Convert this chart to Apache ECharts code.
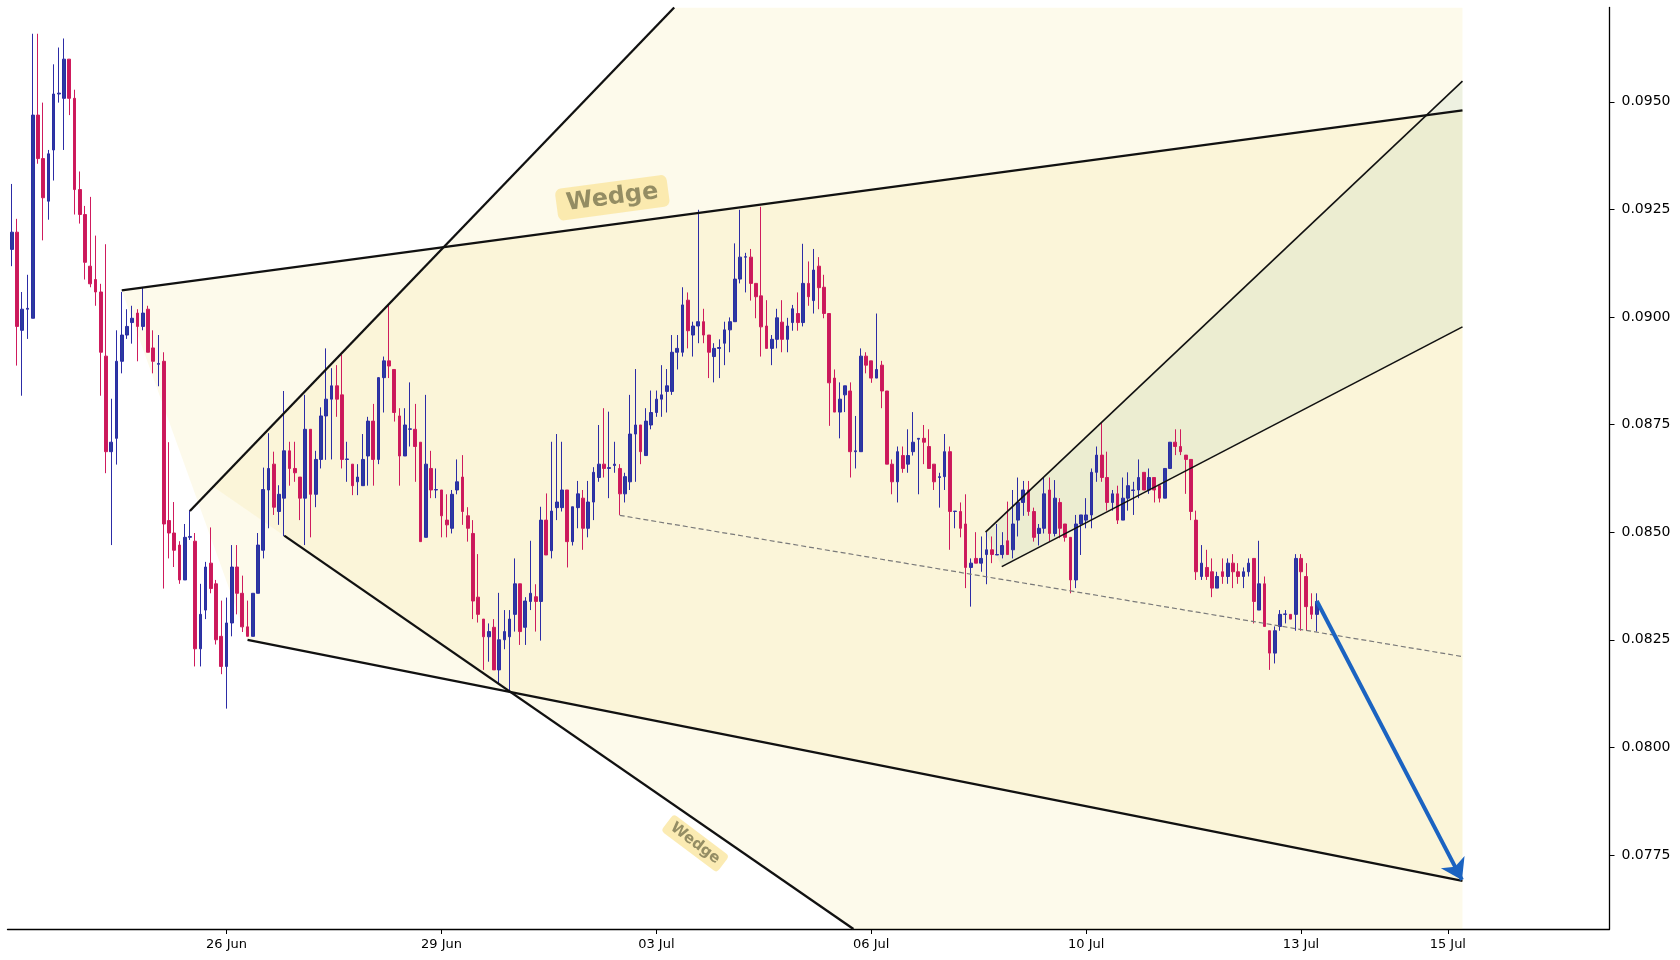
<!DOCTYPE html>
<html>
<head>
<meta charset="utf-8">
<title>Wedge</title>
<script src="https://cdn.jsdelivr.net/npm/echarts@6/dist/echarts.min.js"></script>
<style>
  html, body { margin: 0; padding: 0; background: #fff; }
  #chart { width: 1680px; height: 960px; }
</style>
</head>
<body>
<div id="chart"></div>
<script>
// 2h candles, x is the candle index
const opens = [
  0.09157, 0.09197, 0.08969, 0.09018, 0.08997, 0.09469, 0.09368, 0.09269, 0.09388, 0.09518,
  0.09508, 0.09599, 0.09508, 0.09296, 0.09238, 0.09118, 0.09087, 0.09058, 0.08909, 0.08687,
  0.08718, 0.08897, 0.08958, 0.08987, 0.09009, 0.08978, 0.09018, 0.08928, 0.08890, 0.08897,
  0.08527, 0.08498, 0.08470, 0.08389, 0.08488, 0.08479, 0.08229, 0.08319, 0.08428, 0.08380,
  0.08258, 0.08188, 0.08289, 0.08419, 0.08358, 0.08280, 0.08258, 0.08358, 0.08458, 0.08598,
  0.08658, 0.08548, 0.08579, 0.08689, 0.08648, 0.08628, 0.08579, 0.08739, 0.08588, 0.08669,
  0.08770, 0.08809, 0.08840, 0.08819, 0.08669, 0.08658, 0.08617, 0.08608, 0.08677, 0.08758,
  0.08669, 0.08859, 0.08898, 0.08878, 0.08770, 0.08677, 0.08739, 0.08739, 0.08709, 0.08488,
  0.08648, 0.08598, 0.08598, 0.08528, 0.08509, 0.08598, 0.08628, 0.08538, 0.08497, 0.08349,
  0.08298, 0.08257, 0.08279, 0.08180, 0.08250, 0.08257, 0.08309, 0.08380, 0.08279, 0.08339,
  0.08350, 0.08339, 0.08528, 0.08457, 0.08557, 0.08557, 0.08598, 0.08478, 0.08557, 0.08579,
  0.08509, 0.08570, 0.08627, 0.08658, 0.08648, 0.08655, 0.08648, 0.08589, 0.08617, 0.08728,
  0.08749, 0.08678, 0.08749, 0.08778, 0.08809, 0.08827, 0.08827, 0.08918, 0.08918, 0.09039,
  0.08958, 0.08979, 0.08989, 0.08958, 0.08908, 0.08927, 0.08939, 0.08970, 0.08989, 0.09088,
  0.09139, 0.09139, 0.09078, 0.09049, 0.08979, 0.08927, 0.08948, 0.08988, 0.08948, 0.08987,
  0.09008, 0.08987, 0.09078, 0.09038, 0.09118, 0.09069, 0.09008, 0.08858, 0.08779, 0.08819,
  0.08828, 0.08687, 0.08687, 0.08909, 0.08898, 0.08858, 0.08888, 0.08828, 0.08658, 0.08617,
  0.08678, 0.08658, 0.08687, 0.08716, 0.08718, 0.08699, 0.08658, 0.08627, 0.08629, 0.08687,
  0.08548, 0.08548, 0.08519, 0.08418, 0.08439, 0.08428, 0.08448, 0.08459, 0.08447, 0.08448,
  0.08480, 0.08459, 0.08528, 0.08569, 0.08598, 0.08548, 0.08497, 0.08509, 0.08598, 0.08497,
  0.08569, 0.08519, 0.08488, 0.08389, 0.08519, 0.08528, 0.08540, 0.08639, 0.08679, 0.08627,
  0.08569, 0.08589, 0.08528, 0.08579, 0.08597, 0.08598, 0.08639, 0.08598, 0.08627, 0.08608,
  0.08579, 0.08648, 0.08709, 0.08699, 0.08679, 0.08669, 0.08528, 0.08397, 0.08418, 0.08408,
  0.08370, 0.08408, 0.08397, 0.08428, 0.08408, 0.08397, 0.08408, 0.08439, 0.08319, 0.08380,
  0.08271, 0.08219, 0.08281, 0.08309, 0.08309, 0.08309, 0.08439, 0.08397, 0.08327, 0.08309
];
const closes = [
  0.09197, 0.08978, 0.09018, 0.09020, 0.09469, 0.09368, 0.09277, 0.09379, 0.09518, 0.09520,
  0.09599, 0.09508, 0.09296, 0.09238, 0.09127, 0.09077, 0.09058, 0.08918, 0.08687, 0.08709,
  0.08897, 0.08958, 0.08978, 0.08997, 0.08978, 0.09009, 0.08918, 0.08897, 0.08892, 0.08519,
  0.08498, 0.08458, 0.08389, 0.08488, 0.08490, 0.08229, 0.08309, 0.08419, 0.08369, 0.08250,
  0.08188, 0.08289, 0.08419, 0.08358, 0.08280, 0.08258, 0.08358, 0.08470, 0.08599, 0.08648,
  0.08558, 0.08588, 0.08689, 0.08648, 0.08638, 0.08579, 0.08739, 0.08588, 0.08669, 0.08770,
  0.08809, 0.08840, 0.08809, 0.08669, 0.08670, 0.08608, 0.08628, 0.08669, 0.08758, 0.08669,
  0.08859, 0.08898, 0.08886, 0.08778, 0.08677, 0.08749, 0.08740, 0.08699, 0.08478, 0.08658,
  0.08598, 0.08599, 0.08538, 0.08517, 0.08588, 0.08617, 0.08548, 0.08509, 0.08340, 0.08309,
  0.08257, 0.08269, 0.08180, 0.08250, 0.08269, 0.08298, 0.08380, 0.08269, 0.08340, 0.08358,
  0.08339, 0.08528, 0.08447, 0.08549, 0.08570, 0.08598, 0.08478, 0.08559, 0.08589, 0.08509,
  0.08570, 0.08639, 0.08658, 0.08648, 0.08650, 0.08658, 0.08589, 0.08629, 0.08728, 0.08749,
  0.08687, 0.08758, 0.08778, 0.08809, 0.08819, 0.08840, 0.08918, 0.08927, 0.09028, 0.08968,
  0.08979, 0.08989, 0.08958, 0.08918, 0.08927, 0.08929, 0.08970, 0.08989, 0.09088, 0.09139,
  0.09140, 0.09078, 0.09047, 0.08977, 0.08927, 0.08948, 0.08998, 0.08948, 0.08979, 0.09019,
  0.08987, 0.09078, 0.09047, 0.09109, 0.09068, 0.09008, 0.08847, 0.08779, 0.08809, 0.08840,
  0.08687, 0.08689, 0.08909, 0.08888, 0.08858, 0.08878, 0.08828, 0.08658, 0.08617, 0.08687,
  0.08648, 0.08678, 0.08709, 0.08718, 0.08709, 0.08648, 0.08617, 0.08629, 0.08687, 0.08548,
  0.08549, 0.08509, 0.08418, 0.08428, 0.08428, 0.08439, 0.08459, 0.08448, 0.08448, 0.08469,
  0.08448, 0.08519, 0.08569, 0.08598, 0.08548, 0.08488, 0.08509, 0.08589, 0.08497, 0.08579,
  0.08509, 0.08488, 0.08389, 0.08519, 0.08540, 0.08540, 0.08639, 0.08679, 0.08627, 0.08569,
  0.08589, 0.08528, 0.08579, 0.08608, 0.08598, 0.08627, 0.08598, 0.08627, 0.08598, 0.08579,
  0.08648, 0.08709, 0.08699, 0.08687, 0.08669, 0.08548, 0.08408, 0.08428, 0.08397, 0.08370,
  0.08397, 0.08397, 0.08428, 0.08408, 0.08397, 0.08408, 0.08428, 0.08339, 0.08380, 0.08281,
  0.08219, 0.08271, 0.08309, 0.08310, 0.08298, 0.08439, 0.08408, 0.08327, 0.08309, 0.08339
];
const lows = [
  0.09118, 0.08887, 0.08817, 0.08949, 0.08997, 0.09356, 0.09178, 0.09226, 0.09317, 0.09498,
  0.09388, 0.09469, 0.09238, 0.09217, 0.09087, 0.09069, 0.09026, 0.08817, 0.08637, 0.08470,
  0.08657, 0.08869, 0.08949, 0.08938, 0.08897, 0.08969, 0.08918, 0.08869, 0.08839, 0.08369,
  0.08439, 0.08419, 0.08380, 0.08389, 0.08482, 0.08188, 0.08188, 0.08298, 0.08358, 0.08239,
  0.08170, 0.08090, 0.08258, 0.08309, 0.08268, 0.08258, 0.08258, 0.08358, 0.08439, 0.08509,
  0.08540, 0.08517, 0.08491, 0.08608, 0.08617, 0.08528, 0.08470, 0.08488, 0.08558, 0.08648,
  0.08668, 0.08669, 0.08768, 0.08648, 0.08617, 0.08586, 0.08586, 0.08608, 0.08608, 0.08608,
  0.08658, 0.08778, 0.08858, 0.08757, 0.08608, 0.08677, 0.08699, 0.08617, 0.08478, 0.08488,
  0.08579, 0.08579, 0.08488, 0.08488, 0.08497, 0.08588, 0.08517, 0.08478, 0.08298, 0.08290,
  0.08180, 0.08199, 0.08180, 0.08149, 0.08228, 0.08130, 0.08269, 0.08238, 0.08238, 0.08319,
  0.08269, 0.08248, 0.08447, 0.08439, 0.08528, 0.08548, 0.08418, 0.08469, 0.08509, 0.08459,
  0.08488, 0.08528, 0.08617, 0.08627, 0.08579, 0.08638, 0.08540, 0.08569, 0.08598, 0.08617,
  0.08658, 0.08678, 0.08739, 0.08768, 0.08768, 0.08778, 0.08819, 0.08878, 0.08908, 0.08927,
  0.08908, 0.08939, 0.08939, 0.08858, 0.08848, 0.08858, 0.08888, 0.08918, 0.08989, 0.09078,
  0.09057, 0.09038, 0.08997, 0.08908, 0.08927, 0.08888, 0.08927, 0.08918, 0.08918, 0.08968,
  0.08968, 0.08978, 0.09026, 0.09008, 0.09018, 0.08997, 0.08747, 0.08779, 0.08718, 0.08779,
  0.08627, 0.08648, 0.08687, 0.08869, 0.08847, 0.08858, 0.08788, 0.08658, 0.08588, 0.08569,
  0.08638, 0.08638, 0.08678, 0.08588, 0.08658, 0.08648, 0.08598, 0.08557, 0.08598, 0.08459,
  0.08509, 0.08488, 0.08370, 0.08327, 0.08428, 0.08408, 0.08379, 0.08428, 0.08447, 0.08439,
  0.08448, 0.08439, 0.08490, 0.08538, 0.08538, 0.08478, 0.08469, 0.08497, 0.08478, 0.08490,
  0.08486, 0.08478, 0.08358, 0.08370, 0.08447, 0.08509, 0.08509, 0.08617, 0.08617, 0.08550,
  0.08550, 0.08519, 0.08528, 0.08550, 0.08540, 0.08579, 0.08598, 0.08589, 0.08569, 0.08569,
  0.08579, 0.08648, 0.08679, 0.08679, 0.08589, 0.08528, 0.08389, 0.08389, 0.08389, 0.08349,
  0.08370, 0.08380, 0.08380, 0.08370, 0.08380, 0.08370, 0.08397, 0.08288, 0.08319, 0.08281,
  0.08180, 0.08195, 0.08271, 0.08288, 0.08298, 0.08271, 0.08271, 0.08271, 0.08298, 0.08269
];
const highs = [
  0.09309, 0.09228, 0.09058, 0.09098, 0.09658, 0.09658, 0.09498, 0.09388, 0.09587, 0.09626,
  0.09647, 0.09599, 0.09528, 0.09338, 0.09258, 0.09279, 0.09189, 0.09077, 0.09169, 0.08810,
  0.08969, 0.09058, 0.09018, 0.09026, 0.09018, 0.09069, 0.09026, 0.08969, 0.08958, 0.08918,
  0.08709, 0.08570, 0.08479, 0.08519, 0.08551, 0.08498, 0.08380, 0.08431, 0.08511, 0.08389,
  0.08341, 0.08348, 0.08470, 0.08470, 0.08399, 0.08341, 0.08358, 0.08498, 0.08650, 0.08730,
  0.08687, 0.08609, 0.08828, 0.08710, 0.08710, 0.08628, 0.08819, 0.08739, 0.08689, 0.08790,
  0.08927, 0.08881, 0.08888, 0.08912, 0.08710, 0.08658, 0.08658, 0.08728, 0.08768, 0.08798,
  0.08860, 0.08908, 0.09028, 0.08878, 0.08788, 0.08788, 0.08848, 0.08798, 0.08709, 0.08819,
  0.08689, 0.08648, 0.08598, 0.08588, 0.08598, 0.08669, 0.08679, 0.08558, 0.08528, 0.08449,
  0.08298, 0.08288, 0.08298, 0.08359, 0.08319, 0.08319, 0.08439, 0.08380, 0.08349, 0.08480,
  0.08379, 0.08559, 0.08590, 0.08710, 0.08728, 0.08710, 0.08598, 0.08559, 0.08619, 0.08598,
  0.08619, 0.08651, 0.08749, 0.08788, 0.08780, 0.08710, 0.08658, 0.08638, 0.08819, 0.08879,
  0.08749, 0.08788, 0.08829, 0.08829, 0.08888, 0.08879, 0.08958, 0.08958, 0.09069, 0.09057,
  0.08989, 0.09249, 0.09019, 0.08958, 0.08939, 0.08948, 0.08989, 0.08999, 0.09171, 0.09249,
  0.09149, 0.09158, 0.09078, 0.09256, 0.09039, 0.08958, 0.09019, 0.09039, 0.08998, 0.09028,
  0.09057, 0.09170, 0.09129, 0.09158, 0.09139, 0.09098, 0.09008, 0.08878, 0.08848, 0.08840,
  0.08848, 0.08770, 0.08927, 0.08918, 0.08898, 0.09008, 0.08898, 0.08828, 0.08669, 0.08699,
  0.08699, 0.08739, 0.08779, 0.08718, 0.08749, 0.08739, 0.08658, 0.08638, 0.08728, 0.08699,
  0.08549, 0.08569, 0.08588, 0.08439, 0.08500, 0.08490, 0.08500, 0.08490, 0.08519, 0.08500,
  0.08571, 0.08598, 0.08627, 0.08619, 0.08619, 0.08557, 0.08519, 0.08627, 0.08627, 0.08621,
  0.08579, 0.08519, 0.08488, 0.08540, 0.08540, 0.08579, 0.08648, 0.08699, 0.08754, 0.08687,
  0.08598, 0.08608, 0.08627, 0.08639, 0.08617, 0.08669, 0.08639, 0.08648, 0.08627, 0.08608,
  0.08648, 0.08709, 0.08739, 0.08739, 0.08679, 0.08669, 0.08550, 0.08470, 0.08459, 0.08439,
  0.08408, 0.08439, 0.08439, 0.08449, 0.08428, 0.08418, 0.08439, 0.08439, 0.08480, 0.08397,
  0.08271, 0.08281, 0.08319, 0.08319, 0.08309, 0.08449, 0.08449, 0.08428, 0.08358, 0.08358
];

const tickIdx = [41, 82, 123, 164, 205, 246, 274];
const tickText = ['26 Jun', '29 Jun', '03 Jul', '06 Jul', '10 Jul', '13 Jul', '15 Jul'];
const priceTicks = [0.0775, 0.0800, 0.0825, 0.0850, 0.0875, 0.0900, 0.0925, 0.0950];

// drawings, points are [candle index, price]
const bigWedgeTop = [[21, 0.09062], [276.8, 0.09480]];
const bigWedgeBottom = [[45, 0.08250], [276.8, 0.07690]];
const bigWedgeArea = [[21, 0.09062], [276.8, 0.09480], [276.8, 0.07690], [45, 0.08250]];
const broadUpper = [[34, 0.08549], [126.4, 0.09719]];
const broadLower = [[52, 0.08492], [160.6, 0.07578]];
const broadArea = [[38.4, 0.08606], [126.4, 0.09719], [276.8, 0.09719], [276.8, 0.07578], [160.6, 0.07578]];
const risingUpper = [[185.8, 0.08500], [276.8, 0.09548]];
const risingLower = [[188.9, 0.08420], [276.8, 0.08977]];
const risingArea = [[185.8, 0.08500], [276.8, 0.09548], [276.8, 0.08977], [188.9, 0.08420]];
const dashLine = [[116, 0.08539], [276.8, 0.08211]];
const arrowLine = [[249, 0.08340], [276.7, 0.07692]];
const labelBig = [114.6, 0.09277];
const labelSmall = [130.4, 0.07777];

const candles = opens.map((o, i) => [i, o, closes[i], lows[i], highs[i]]);

function areaSeries(points, color) {
    return {
        type: 'custom',
        coordinateSystem: 'cartesian2d',
        silent: true,
        clip: true,
        z: 1,
        data: [points[0]],
        renderItem: function (params, api) {
            return {
                type: 'polygon',
                shape: { points: points.map(p => api.coord(p)) },
                style: { fill: color }
            };
        }
    };
}

function lineSeries(points, color, width, type) {
    return {
        type: 'line',
        data: points,
        symbol: 'none',
        silent: true,
        z: 4,
        lineStyle: { color: color, width: width, type: type || 'solid' }
    };
}

function labelSeries(point, rotate, size, pad, radius) {
    return {
        type: 'scatter',
        data: [point],
        symbolSize: 0,
        silent: true,
        z: 6,
        label: {
            show: true,
            position: 'inside',
            formatter: 'Wedge',
            rotate: rotate,
            fontSize: size,
            fontWeight: 'bold',
            fontFamily: 'DejaVu Sans',
            color: '#7b7650',
            backgroundColor: '#fae6a0',
            borderRadius: radius,
            padding: pad
        }
    };
}

const chart = echarts.init(document.getElementById('chart'));
chart.setOption({
    animation: false,
    backgroundColor: '#fff',
    grid: { left: 7.5, right: 70.5, top: 7.5, bottom: 31 },
    xAxis: {
        type: 'value',
        min: -0.8,
        max: 304.85,
        splitLine: { show: false },
        axisLine: { onZero: false, lineStyle: { color: '#000', width: 1.3 } },
        axisTick: { customValues: tickIdx, length: 5, lineStyle: { color: '#000', width: 1 } },
        axisLabel: {
            customValues: tickIdx,
            formatter: v => tickText[tickIdx.indexOf(v)] || '',
            color: '#000',
            fontSize: 13,
            fontFamily: 'DejaVu Sans',
            margin: 9
        }
    },
    yAxis: {
        type: 'value',
        position: 'right',
        min: 0.07578,
        max: 0.09719,
        splitLine: { show: false },
        axisLine: { show: true, onZero: false, lineStyle: { color: '#000', width: 1.3 } },
        axisTick: { show: true, customValues: priceTicks, length: 5, lineStyle: { color: '#000', width: 1 } },
        axisLabel: {
            customValues: priceTicks,
            formatter: v => v.toFixed(4),
            color: '#000',
            fontSize: 14,
            fontFamily: 'DejaVu Sans',
            margin: 12
        }
    },
    series: [
        areaSeries(bigWedgeArea, 'rgba(240,215,90,0.12)'),
        areaSeries(broadArea, 'rgba(240,215,90,0.12)'),
        areaSeries(risingArea, 'rgba(130,180,160,0.12)'),
        {
            type: 'candlestick',
            data: candles,
            barWidth: 3.2,
            z: 3,
            silent: true,
            itemStyle: {
                color: '#2b3ba0',
                color0: '#c9195b',
                borderColor: '#2c2ca6',
                borderColor0: '#cf1b5d',
                borderWidth: 1
            }
        },
        lineSeries(bigWedgeTop, '#111', 2.3),
        lineSeries(bigWedgeBottom, '#111', 2.3),
        lineSeries(broadUpper, '#111', 2.3),
        lineSeries(broadLower, '#111', 2.3),
        lineSeries(risingUpper, '#111', 1.6),
        lineSeries(risingLower, '#111', 1.6),
        lineSeries(dashLine, '#7a7a7a', 1.2, [5, 3]),
        {
            type: 'line',
            data: [],
            z: 5,
            markLine: {
                silent: true,
                symbol: ['none', 'arrow'],
                symbolSize: 20,
                label: { show: false },
                lineStyle: { color: '#1b63c1', width: 4, type: 'solid' },
                data: [[{ coord: arrowLine[0] }, { coord: arrowLine[1] }]]
            }
        },
        labelSeries(labelBig, 7.7, 24, [4, 10], 6),
        labelSeries(labelSmall, -37, 15, [3, 6], 4)
    ]
});
</script>
</body>
</html>
